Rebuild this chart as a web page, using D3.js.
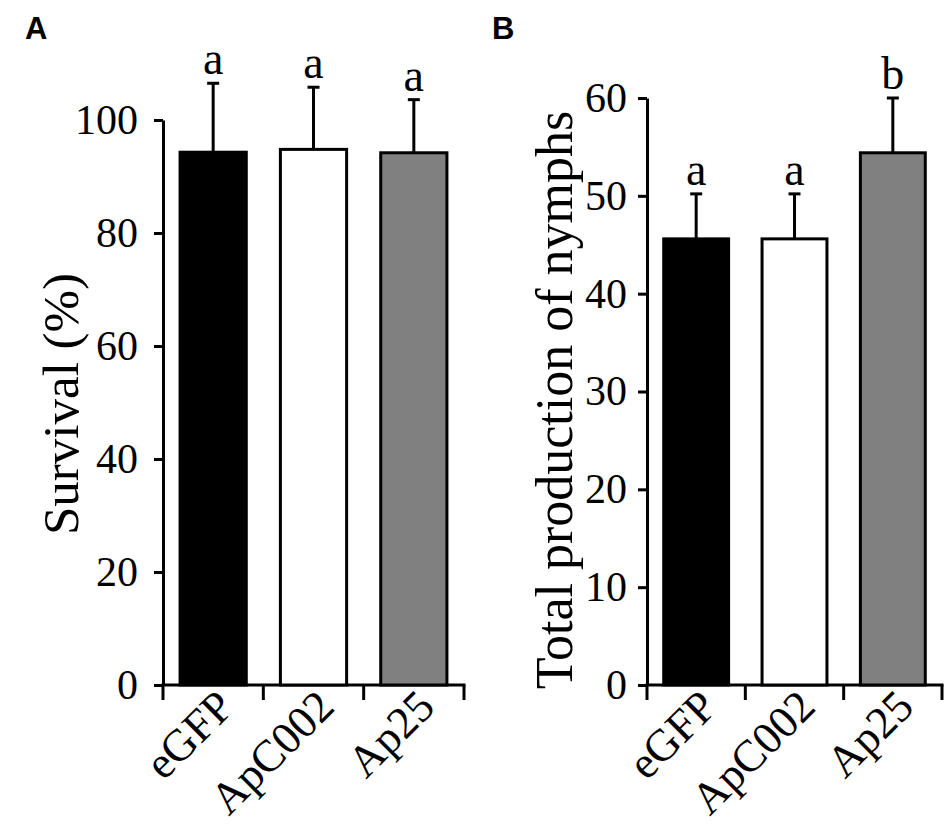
<!DOCTYPE html>
<html>
<head>
<meta charset="utf-8">
<script src="https://cdn.jsdelivr.net/npm/d3@7"></script>
<style>
  html, body { margin: 0; padding: 0; background: #fff; }
  svg { display: block; }
  text { fill: #000; }
</style>
</head>
<body>
<svg id="chart" width="950" height="828"></svg>
<script>
// Données
const categories = ['eGFP', 'ApC002', 'Ap25'];
const barFills = ['#000000', '#ffffff', '#808080'];

// Panneau A : survie (%)
const survivalMean = [94.3, 94.8, 94.2];
const survivalErr = [12.2, 11.0, 9.4];
const survivalLetters = ['a', 'a', 'a'];
const survivalTicks = [0, 20, 40, 60, 80, 100];

// Panneau B : production totale de larves
const nymphMean = [45.6, 45.6, 54.4];
const nymphErr = [4.6, 4.6, 5.6];
const nymphLetters = ['a', 'a', 'b'];
const nymphTicks = [0, 10, 20, 30, 40, 50, 60];

const svg = d3.select('#chart');
const serif = '"Liberation Serif", "Times New Roman", serif';

/**
 * Dessine un panneau (axes, barres, barres d'erreur, lettres)
 */
function drawPanel(o) {
  const g = svg.append('g');

  const y = d3.scaleLinear().domain(o.domain).range([o.bottom, o.top]);
  const x = d3.scaleBand()
    .domain(categories)
    .range([o.left, o.right])
    .paddingInner(0.34)
    .paddingOuter(0.17);

  // Axe Y
  const yAxis = g.append('g')
    .attr('transform', `translate(${o.left},0)`)
    .attr('font-family', serif)
    .call(d3.axisLeft(y).tickValues(o.ticks).tickSize(9).tickPadding(o.tickPad).tickSizeOuter(0));
  yAxis.attr('font-family', serif);
  yAxis.select('.domain').attr('stroke', '#000').attr('stroke-width', 3);
  yAxis.selectAll('.tick line').attr('stroke', '#000').attr('stroke-width', 3);
  yAxis.selectAll('.tick text')
    .style('font-family', serif)
    .style('font-size', '42px')
    .attr('fill', '#000');

  // Axe X : ligne et graduations entre les catégories
  const step = x.step();
  const xTicks = d3.range(categories.length + 1).map(i => o.left + i * step);
  g.append('line')
    .attr('x1', o.left - 1.5).attr('x2', xTicks[xTicks.length - 1] + 1.5)
    .attr('y1', y(0)).attr('y2', y(0))
    .attr('stroke', '#000').attr('stroke-width', 3);
  g.selectAll('line.xtick')
    .data(xTicks)
    .enter()
    .append('line')
    .attr('class', 'xtick')
    .attr('x1', d => d).attr('x2', d => d)
    .attr('y1', y(0)).attr('y2', y(0) + 15)
    .attr('stroke', '#000').attr('stroke-width', 3);

  // Libellés des catégories (pivotés)
  g.selectAll('text.cat')
    .data(categories)
    .enter()
    .append('text')
    .attr('class', 'cat')
    .attr('text-anchor', 'end')
    .attr('transform', d => `translate(${x(d) + x.bandwidth() / 2 + 23},${y(0) + 24}) rotate(-45)`)
    .style('font-family', serif)
    .style('font-size', '45px')
    .text(d => d);

  // Barres d'erreur (vers le haut seulement)
  const cap = 12;
  categories.forEach((c, i) => {
    const cx = x(c) + x.bandwidth() / 2;
    const yTop = y(o.mean[i] + o.err[i]);
    g.append('line')
      .attr('x1', cx).attr('x2', cx)
      .attr('y1', y(o.mean[i])).attr('y2', yTop)
      .attr('stroke', '#000').attr('stroke-width', 3);
    g.append('line')
      .attr('x1', cx - cap / 2).attr('x2', cx + cap / 2)
      .attr('y1', yTop).attr('y2', yTop)
      .attr('stroke', '#000').attr('stroke-width', 3);
    g.append('text')
      .attr('x', cx)
      .attr('y', yTop - 9)
      .attr('text-anchor', 'middle')
      .style('font-family', serif)
      .style('font-size', '46px')
      .text(o.letters[i]);
  });

  // Barres
  g.selectAll('rect.bar')
    .data(categories)
    .enter()
    .append('rect')
    .attr('class', 'bar')
    .attr('x', d => x(d))
    .attr('width', x.bandwidth())
    .attr('y', (d, i) => y(o.mean[i]))
    .attr('height', (d, i) => y(0) - y(o.mean[i]))
    .attr('fill', (d, i) => barFills[i])
    .attr('stroke', '#000')
    .attr('stroke-width', 3);

  // Titre de l'axe Y
  g.append('text')
    .attr('transform', `translate(${o.titleX},${o.titleY}) rotate(-90)`)
    .attr('text-anchor', 'middle')
    .style('font-family', serif)
    .style('font-size', o.titleSize + 'px')
    .text(o.title);

  // Lettre du panneau
  g.append('text')
    .attr('x', o.tagX)
    .attr('y', 39)
    .style('font-family', '"Liberation Sans", Arial, sans-serif')
    .style('font-weight', 'bold')
    .style('font-size', '31px')
    .text(o.tag);
}

drawPanel({
  tag: 'A', tagX: 25,
  left: 163, right: 464, top: 120, bottom: 685,
  domain: [0, 100], ticks: survivalTicks, tickPad: 16,
  mean: survivalMean, err: survivalErr, letters: survivalLetters,
  title: 'Survival (%)', titleX: 78, titleY: 404, titleSize: 51
});

drawPanel({
  tag: 'B', tagX: 492,
  left: 647, right: 942, top: 98, bottom: 685,
  domain: [0, 60], ticks: nymphTicks, tickPad: 11,
  mean: nymphMean, err: nymphErr, letters: nymphLetters,
  title: 'Total production of nymphs', titleX: 572, titleY: 400, titleSize: 52
});
</script>
</body>
</html>
